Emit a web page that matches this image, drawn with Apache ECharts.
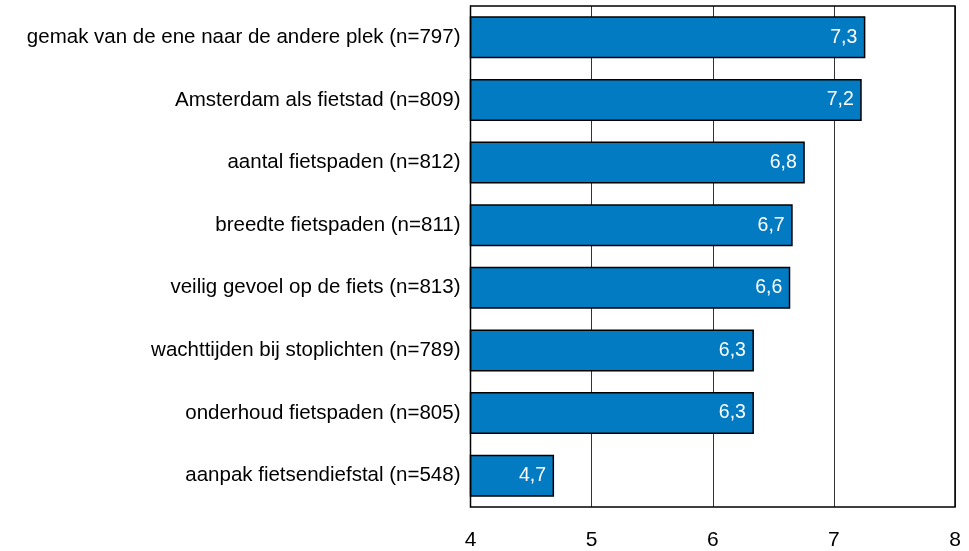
<!DOCTYPE html>
<html><head><meta charset="utf-8">
<script src="https://cdn.jsdelivr.net/npm/echarts@6/dist/echarts.min.js"></script>
<style>html,body{margin:0;padding:0;background:#fff}#c{width:969px;height:551px}</style>
</head><body><div id="c"></div>
<script>
var categories = [
  "gemak van de ene naar de andere plek (n=797)",
  "Amsterdam als fietstad (n=809)",
  "aantal fietspaden (n=812)",
  "breedte fietspaden (n=811)",
  "veilig gevoel op de fiets (n=813)",
  "wachttijden bij stoplichten (n=789)",
  "onderhoud fietspaden (n=805)",
  "aanpak fietsendiefstal (n=548)"
];
var values = [7.26, 7.23, 6.76, 6.66, 6.64, 6.34, 6.34, 4.69];
var xTicks = [4, 5, 6, 7, 8];

var chart = echarts.init(document.getElementById('c'));
chart.setOption({
  animation: false,
  grid: {left: 470.5, right: 14, top: 6, bottom: 44, containLabel: false},
  xAxis: {
    type: 'value', min: 4, max: 8, interval: 1,
    axisLine: {show: false}, axisTick: {show: false},
    splitLine: {show: true, lineStyle: {color: '#333', width: 1}},
    axisLabel: {color: '#000', fontSize: 21, fontFamily: 'Liberation Sans, Arial', margin: 23,
      formatter: function(v){ return xTicks.indexOf(v) >= 0 ? String(v) : ''; }}
  },
  yAxis: {
    type: 'category', inverse: true, data: categories,
    axisLine: {show: true, lineStyle: {color: '#000', width: 1}},
    axisTick: {show: false},
    axisLabel: {color: '#000', fontSize: 20.5, fontFamily: 'Liberation Sans, Arial', margin: 10}
  },
  graphic: [{
    type: 'rect', shape: {x: 470.5, y: 6, width: 484.5, height: 501},
    style: {fill: 'none', stroke: '#000', lineWidth: 1.5}, z: 100, silent: true
  }],
  series: [{
    type: 'bar', data: values, barCategoryGap: '33%',
    itemStyle: {color: '#037bc3', borderColor: '#000', borderWidth: 1.5},
    label: {show: true, position: 'insideRight', color: '#fff', fontSize: 19.5,
      fontFamily: 'Liberation Sans, Arial', distance: 8,
      formatter: function(p){ return p.value.toFixed(1).replace('.', ','); }}
  }]
});
</script></body></html>
